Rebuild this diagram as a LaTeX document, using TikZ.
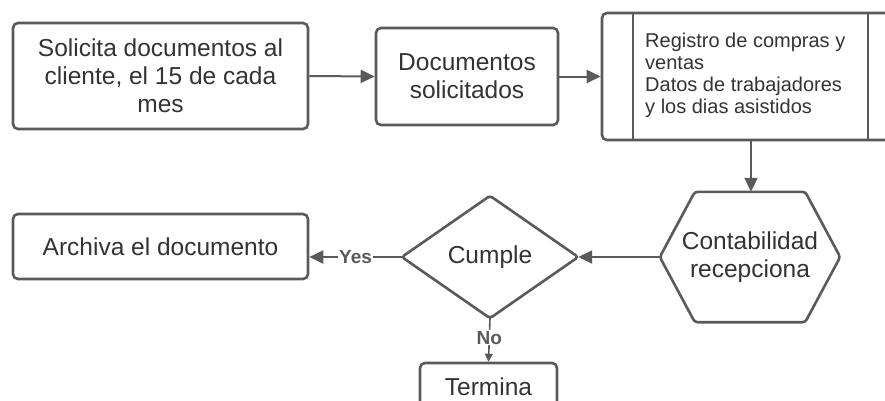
\documentclass[tikz,border=0pt]{standalone}
\usepackage{fontspec}
\setmainfont{Liberation Sans}
\usetikzlibrary{arrows.meta,calc}
\definecolor{ln}{HTML}{5A5A5A}
\definecolor{tx}{HTML}{333333}
\tikzset{
  box/.style={draw=ln,line width=2.6pt,rounded corners=5pt,fill=white,text=tx,align=center,font=\fontsize{24.5}{28}\selectfont,inner sep=0pt},
  shp/.style={draw=ln,line width=2.6pt,rounded corners=3pt,fill=white},
  txt/.style={text=tx,align=center,font=\fontsize{24.5}{28}\selectfont,inner sep=0pt},
  conn/.style={draw=ln,line width=2pt,-{Triangle[length=14pt,width=13pt]}},
  smallconn/.style={draw=ln,line width=1.6pt,-{Triangle[length=8pt,width=8pt]}},
  lbl/.style={fill=white,text=ln,font=\bfseries\fontsize{19}{20}\selectfont,inner sep=1pt},
}
\begin{document}
\begin{tikzpicture}[x=1pt,y=-1pt]
\useasboundingbox (0,0) rectangle (885,400);
\clip (0,0) rectangle (885,400);
% top row
\node[box,minimum width=295pt,minimum height=106pt] (s) at (160.5,76) {Solicita documentos al\\cliente, el 15 de cada\\mes};
\node[box,minimum width=182pt,minimum height=97pt] (d) at (467,76.5) {Documentos\\solicitados};
\node[box,minimum width=303pt,minimum height=127pt] (r) at (753.5,76.5) {};
\coordinate (rl) at (633,13);
\coordinate (rr) at (868,13);
\draw[ln,line width=2.6pt] (rl) -- (rl |- r.south);
\draw[ln,line width=2.6pt] (rr) -- (rr |- r.south);
\node[text=tx,align=left,anchor=west,font=\fontsize{20}{22}\selectfont,inner sep=0pt] (rt) at (645,75) {Registro de compras y\\ventas\\Datos de trabajadores\\y los dias asistidos};
% hexagon
\node[minimum width=180pt,minimum height=130pt,inner sep=0pt] (h) at (750,257) {};
\draw[shp] (h.west) -- ($(h.north west)+(35,0)$) -- ($(h.north east)+(-35,0)$) -- (h.east) -- ($(h.south east)+(-35,0)$) -- ($(h.south west)+(35,0)$) -- cycle;
\node[txt] (ht) at (h.center) {Contabilidad\\recepciona};
% diamond
\node[minimum width=176pt,minimum height=122pt,inner sep=0pt] (c) at (490,257) {};
\draw[shp] (c.west) -- (c.north) -- (c.east) -- (c.south) -- cycle;
\node[txt] (ct) at (c.center) {Cumple};
% archive and end
\node[box,minimum width=295pt,minimum height=65pt] (a) at (160.5,246.5) {Archiva el documento};
\node[box,minimum width=137pt,minimum height=64pt] (t) at (488.5,395) {};
\node[txt,anchor=base] (tt) at (488.5,395) {Termina};
% connectors
\draw[conn] (s.east) -- (d.west);
\draw[conn] (d.east) -- (r.west);
\coordinate (rb) at (751,140);
\draw[conn] (rb) -- (rb |- h.north);
\draw[conn] (h.west) -- (c.east);
\draw[conn] (c.west) -- (a.east |- c.west) node[lbl,pos=0.5] {Yes};
\draw[smallconn] (c.south) -- (t.north) node[lbl,pos=0.45] {No};
\end{tikzpicture}
\end{document}
